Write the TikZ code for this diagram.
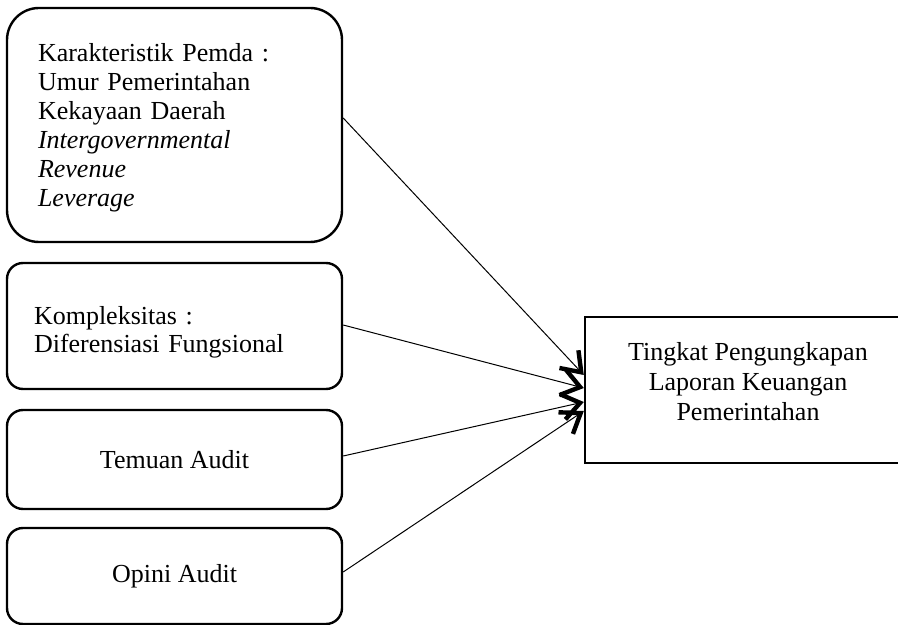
\documentclass[tikz,border=0pt]{standalone}
\usepackage{fontspec}
\setmainfont{Liberation Serif}
\usepackage{tikz}
\usetikzlibrary{arrows.meta,positioning}
\tikzset{
    % Left-hand variable boxes
    varbox/.style={
        draw, rounded corners=8pt, line width=1.2pt,
        minimum width=167.5pt, inner sep=0pt,
        font=\fontsize{13}{14}\selectfont
    },
    bigvarbox/.style={varbox, rounded corners=16pt, align=left,
        font=\fontsize{13}{14.5}\selectfont},
    % Dependent variable box
    depbox/.style={
        draw, line width=1.2pt, minimum width=163pt, minimum height=73pt,
        align=center, font=\fontsize{13}{15}\selectfont
    },
    % Influence arrows
    arc/.style={-{Straight Barb[length=9pt,width=13pt,line width=2.2pt]}, line width=0.5pt},
}
\begin{document}
\begin{tikzpicture}[x=0.5pt,y=-0.5pt]
  \useasboundingbox (0,0) rectangle (898,625);
  % independent variables
  \node[bigvarbox,minimum height=117pt,text width=136.5pt,inner xsep=15.5pt] (pemda) at (174.5,125)
    {\rule{0pt}{12pt}Karakteristik Pemda :\\ Umur Pemerintahan\\ Kekayaan Daerah\\
     \textit{Intergovernmental}\\ \textit{Revenue}\\ \textit{Leverage}};
  \node[varbox,align=left,minimum height=63pt,text width=140.5pt,inner xsep=13.5pt] (komp) at (174.5,326)
    {\rule{0pt}{15pt}Kompleksitas :\\ Diferensiasi Fungsional};
  \node[varbox,minimum height=49.5pt] (temuan) at (174.5,459.5) {Temuan Audit};
  \node[varbox,minimum height=48pt] (opini) at (174.5,576) {Opini Audit};
  % dependent variable
  \node[depbox] (tpl) at (748,390)
    {Tingkat Pengungkapan\\ Laporan Keuangan\\ Pemerintahan\rule[-9pt]{0pt}{0pt}};
  % arrows
  \draw[arc] ([yshift=3.5pt]pemda.east) -- ([yshift=7.5pt]tpl.west);
  \draw[arc] ([yshift=0.5pt]komp.east) -- ([yshift=1pt]tpl.west);
  \draw[arc] ([yshift=1.75pt]temuan.east) -- ([yshift=-6pt]tpl.west);
  \draw[arc] ([yshift=2pt]opini.east) -- ([yshift=-10.5pt]tpl.west);
\end{tikzpicture}
\end{document}
